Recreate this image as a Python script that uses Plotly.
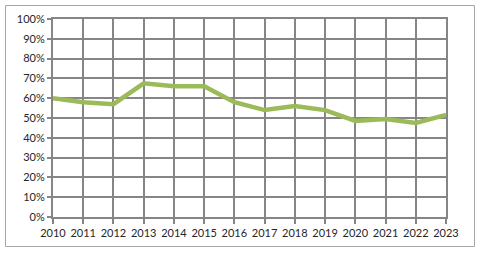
import plotly.graph_objects as go

years = list(range(2010, 2024))
values = [0.60, 0.58, 0.57, 0.675, 0.66, 0.66, 0.58, 0.54, 0.56, 0.54, 0.485, 0.495, 0.475, 0.515]
y_ticks = [i / 10 for i in range(11)]
y_tick_labels = [f"{i*10}%" for i in range(11)]

L, R, T, B = 53, 34, 19, 39
W, H = 480, 256
pw, ph = W - L - R, H - T - B

def px2paper_x(px):
    return (px - L) / pw

def px2paper_y(py):
    return (H - B - py) / ph

fig = go.Figure()
fig.add_trace(go.Scatter(x=years, y=values, mode="lines",
                         line=dict(color="#9BBB59", width=4.5),
                         hoverinfo="skip"))

grid = "#868686"
fig.update_layout(
    width=W, height=H,
    margin=dict(l=L, r=R, t=T, b=B),
    paper_bgcolor="white", plot_bgcolor="white",
    showlegend=False,
    font=dict(family="Lato, Liberation Sans, sans-serif", size=11, color="#262626"),
    xaxis=dict(range=[2010, 2023], tickmode="array", tickvals=years,
               ticktext=[str(y) for y in years],
               showgrid=True, gridcolor=grid, gridwidth=2,
               showline=True, linecolor=grid, linewidth=2, mirror=True,
               ticks="outside", ticklen=5, tickwidth=2, tickcolor=grid,
               zeroline=False, fixedrange=True),
    yaxis=dict(range=[0, 1], tickmode="array", tickvals=y_ticks,
               ticktext=y_tick_labels,
               showgrid=True, gridcolor=grid, gridwidth=2,
               showline=True, linecolor=grid, linewidth=2, mirror=True,
               ticks="outside", ticklen=4, tickwidth=2, tickcolor=grid,
               zeroline=False, fixedrange=True),
    shapes=[dict(type="rect", xref="paper", yref="paper",
                 x0=px2paper_x(5.5), x1=px2paper_x(474.5),
                 y0=px2paper_y(246.5), y1=px2paper_y(5.5),
                 line=dict(color="#A6A6A6", width=1), fillcolor="rgba(0,0,0,0)",
                 layer="below")],
)

fig.write_html("out.html", config={"displayModeBar": False})
